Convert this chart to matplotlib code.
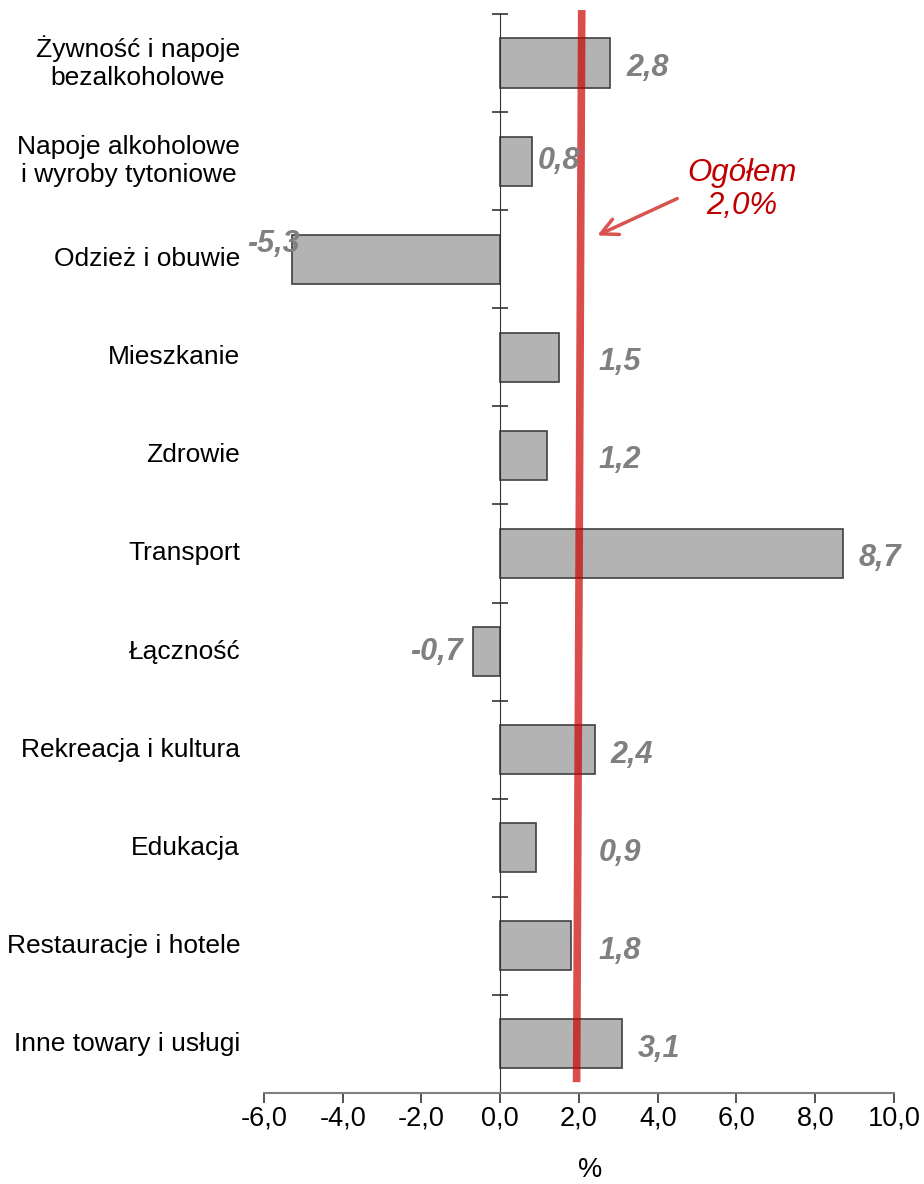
import numpy as np
import matplotlib.pyplot as plt

# categories and yearly price change (%)
categories = ['Żywność i napoje\nbezalkoholowe', 'Napoje alkoholowe\ni wyroby tytoniowe',
              'Odzież i obuwie', 'Mieszkanie', 'Zdrowie', 'Transport', 'Łączność',
              'Rekreacja i kultura', 'Edukacja', 'Restauracje i hotele',
              'Inne towary i usługi']
values = [2.8, 0.8, -5.3, 1.5, 1.2, 8.7, -0.7, 2.4, 0.9, 1.8, 3.1]
total = 2.0
xticks = [-6, -4, -2, 0, 2, 4, 6, 8, 10]

plt.rcParams['font.family'] = ['Liberation Sans', 'DejaVu Sans']

fig = plt.figure(figsize=(9.24, 11.84), dpi=100)
ax = fig.add_axes([0.2857, 0.0769, 0.6818, 0.9113])

y = np.arange(len(values))
ax.barh(y, values, height=0.5, color='#b3b3b3', edgecolor='#404040', linewidth=1.2, zorder=2)

ax.set_xlim(-6, 10)
ax.set_ylim(len(values) - 0.5, -0.5)

# spines
ax.spines['top'].set_visible(False)
ax.spines['right'].set_visible(False)
ax.spines['left'].set_position(('data', 0))
ax.spines['left'].set_color('#333333')
ax.spines['bottom'].set_color('#808080')
ax.spines['bottom'].set_linewidth(1.5)

ax.set_yticks(np.arange(-0.5, len(values), 1))
ax.set_yticklabels([])
ax.tick_params(axis='y', direction='inout', length=12, width=1.2, color='#333333')

ax.set_xticks(xticks)
ax.set_xticklabels([f'{v:.1f}'.replace('.', ',') for v in xticks], fontsize=19.5)
ax.tick_params(axis='x', direction='out', length=7, width=1.2, color='#333333', pad=2)
fig.text(590 / 924, 1 - 1170 / 1184, '%', ha='center', va='center', fontsize=19.5)

# category labels at left
for i, c in enumerate(categories):
    ax.text(-0.038, i, c, transform=ax.get_yaxis_transform(), ha='right', va='center',
            multialignment='center', fontsize=19, linespacing=1.2)

# value labels
lab = dict(fontsize=22, fontweight='bold', fontstyle='italic', color='#808080',
           va='center', zorder=5)
for i, v in enumerate(values):
    txt = f'{v:.1f}'.replace('.', ',')
    if v < -3:
        ax.text(v + 0.2, i - 0.15, txt, ha='right', **lab)
    elif v < 0:
        ax.text(v - 0.25, i, txt, ha='right', **lab)
    elif abs(v - 0.8) < 1e-9:
        ax.text(v + 0.15, i, txt, ha='left', **lab)
    elif v < 2.3:
        ax.text(2.5, i + 0.05, txt, ha='left', **lab)
    else:
        ax.text(v + 0.4, i + 0.05, txt, ha='left', **lab)

# overall line
ax.plot([total + 0.07, total - 0.06], [-0.54, 10.39], color='#cc0000', alpha=0.7,
        linewidth=5.5, solid_capstyle='butt', clip_on=False, zorder=3)
ax.text(6.13, 1.29, 'Ogółem\n2,0%', ha='center', va='center', fontsize=22.5,
        fontstyle='italic', color='#c00000', linespacing=1.1)
ax.annotate('', xy=(2.4, 1.77), xytext=(4.56, 1.37),
            arrowprops=dict(arrowstyle='->', color='#d9534f', lw=2.5, mutation_scale=30))

fig.savefig('out.png', dpi=100)
